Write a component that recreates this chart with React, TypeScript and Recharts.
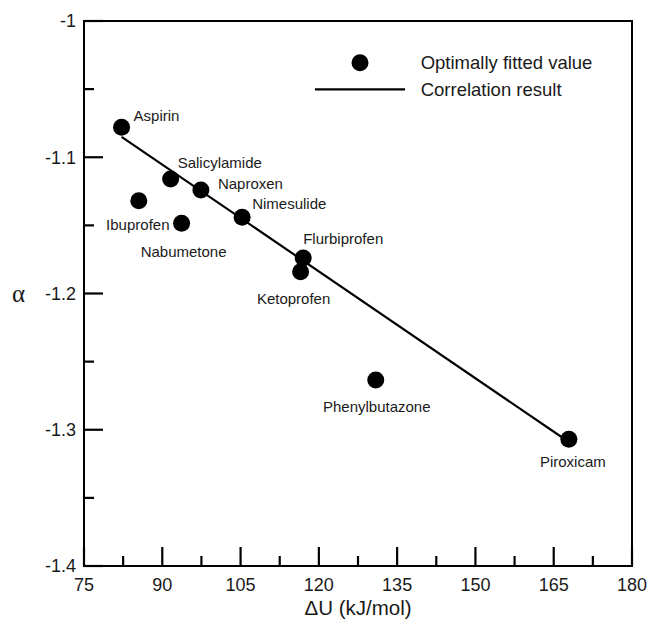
import React from 'react';
import { ScatterChart, Scatter, XAxis, YAxis, ReferenceArea, Legend, Label } from 'recharts';

const drugs = ['Aspirin', 'Salicylamide', 'Naproxen', 'Ibuprofen', 'Nabumetone', 'Nimesulide', 'Flurbiprofen', 'Ketoprofen', 'Phenylbutazone', 'Piroxicam'];
const deltaU = [82.2, 91.6, 97.4, 85.5, 93.7, 105.3, 117.0, 116.5, 130.9, 167.9];
const alphaVals = [-1.078, -1.116, -1.124, -1.132, -1.1485, -1.144, -1.174, -1.184, -1.2635, -1.307];

const fitU = [82.2, 167.9];
const fitAlpha = [-1.085, -1.309];

const xMajorTicks = [75, 90, 105, 120, 135, 150, 165, 180];
const xMinorTicks = [82.5, 97.5, 112.5, 127.5, 142.5, 157.5, 172.5];
const yMajorTicks = [-1.4, -1.3, -1.2, -1.1, -1];
const yMinorTicks = [-1.35, -1.25, -1.15, -1.05];

const seriesNames = ['Optimally fitted value', 'Correlation result'];

// label placement styles (relative to each dot)
const labelPlacement: Record<string, { anchor: 'start' | 'middle' | 'end'; dx: number; dy: number }> = {
  Aspirin: { anchor: 'start', dx: 12, dy: -12 },
  Salicylamide: { anchor: 'start', dx: 7, dy: -16 },
  Naproxen: { anchor: 'start', dx: 17, dy: -6 },
  Ibuprofen: { anchor: 'middle', dx: -1, dy: 24 },
  Nabumetone: { anchor: 'middle', dx: 2, dy: 28 },
  Nimesulide: { anchor: 'start', dx: 10, dy: -14 },
  Flurbiprofen: { anchor: 'start', dx: 0, dy: -19 },
  Ketoprofen: { anchor: 'middle', dx: -7, dy: 27 },
  Phenylbutazone: { anchor: 'middle', dx: 1, dy: 27 },
  Piroxicam: { anchor: 'middle', dx: 4, dy: 22 },
};

const points = drugs.map((name, i) => ({ name, x: deltaU[i], y: alphaVals[i] }));
const fitLine = fitU.map((x, i) => ({ x, y: fitAlpha[i] }));

const FONT = '"Liberation Sans", Arial, Helvetica, sans-serif';
const TEXT = '#1a1a1a';

const XTick = (props: any) => {
  const { x, y, payload } = props;
  const major = xMajorTicks.includes(payload.value);
  return (
    <g>
      <line x1={x} x2={x} y1={y} y2={y - (major ? 19 : 10)} stroke="#000" strokeWidth={2.2} />
      {major && (
        <text x={x} y={y + 25} textAnchor="middle" fontSize={18} fontFamily={FONT} fill={TEXT}>
          {payload.value}
        </text>
      )}
    </g>
  );
};

const YTick = (props: any) => {
  const { x, y, payload } = props;
  const major = yMajorTicks.some((t) => Math.abs(t - payload.value) < 1e-9);
  return (
    <g>
      <line x1={x} x2={x + (major ? 19 : 10)} y1={y} y2={y} stroke="#000" strokeWidth={2.2} />
      {major && (
        <text x={x - 8} y={y + 6.4} textAnchor="end" fontSize={18} fontFamily={FONT} fill={TEXT}>
          {String(payload.value)}
        </text>
      )}
    </g>
  );
};

const DotShape = (props: any) => {
  const { cx, cy, payload } = props;
  const p = labelPlacement[payload.name] || { anchor: 'start', dx: 10, dy: -10 };
  return (
    <g>
      <circle cx={cx} cy={cy} r={8.5} fill="#000" />
      <text
        x={cx + p.dx}
        y={cy + p.dy + 5.4}
        textAnchor={p.anchor}
        fontSize={15}
        fontFamily={FONT}
        fill={TEXT}
      >
        {payload.name}
      </text>
    </g>
  );
};

const LegendContent = () => (
  <svg width={320} height={70} style={{ display: 'block' }}>
    <circle cx={60} cy={17.7} r={8.5} fill="#000" />
    <text x={120.7} y={24.3} fontSize={18.5} fontFamily={FONT} fill={TEXT}>{seriesNames[0]}</text>
    <line x1={15} x2={105} y1={44.3} y2={44.3} stroke="#000" strokeWidth={2.2} />
    <text x={120.7} y={51} fontSize={18.5} fontFamily={FONT} fill={TEXT}>{seriesNames[1]}</text>
  </svg>
);

export default function App() {
  return (
    <div style={{ position: 'absolute', left: 0, top: 0, width: 648, height: 620, background: '#fff' }}>
      <ScatterChart width={648} height={620} margin={{ top: 21, right: 16, bottom: 0, left: 0 }}>
        <XAxis
          type="number"
          dataKey="x"
          domain={[75, 180]}
          ticks={[...xMajorTicks, ...xMinorTicks].sort((a, b) => a - b)}
          interval={0}
          tick={<XTick />}
          tickLine={false}
          tickSize={0}
          tickMargin={0}
          axisLine={{ stroke: '#000', strokeWidth: 2 }}
          height={54}
          allowDataOverflow
        >
          <Label
            value="ΔU (kJ/mol)"
            position="insideBottom"
            offset={5}
            style={{ fontSize: 20.5, fontFamily: FONT, fill: TEXT }}
          />
        </XAxis>
        <YAxis
          type="number"
          dataKey="y"
          domain={[-1.4, -1]}
          ticks={[...yMajorTicks, ...yMinorTicks].sort((a, b) => a - b)}
          interval={0}
          tick={<YTick />}
          tickLine={false}
          tickSize={0}
          tickMargin={0}
          axisLine={{ stroke: '#000', strokeWidth: 2 }}
          width={84}
          allowDataOverflow
        >
          <Label
            value="α"
            position="insideLeft"
            offset={12}
            style={{ fontSize: 25, fontFamily: '"Liberation Serif", "Times New Roman", serif', fill: TEXT, textAnchor: 'start' }}
          />
        </YAxis>
        <ReferenceArea x1={75} x2={180} y1={-1.4} y2={-1} fill="none" stroke="#000" strokeWidth={2} />
        <Scatter
          name={seriesNames[1]}
          data={fitLine}
          line={{ stroke: '#000', strokeWidth: 2.2 }}
          shape={() => <g />}
          isAnimationActive={false}
        />
        <Scatter name={seriesNames[0]} data={points} shape={<DotShape />} isAnimationActive={false} />
        <Legend
          layout="vertical"
          align="center"
          verticalAlign="middle"
          content={<LegendContent />}
          wrapperStyle={{ position: 'absolute', left: 300, top: 45, width: 320, height: 70 }}
        />
      </ScatterChart>
    </div>
  );
}
